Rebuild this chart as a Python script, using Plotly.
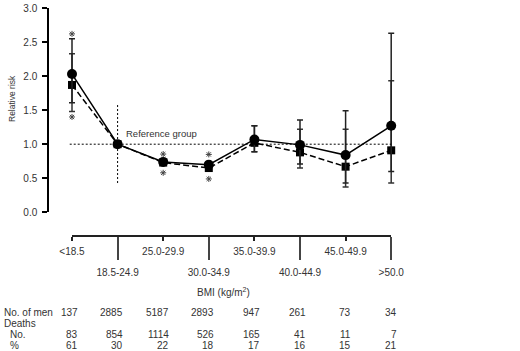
import plotly.graph_objects as go

# ---- data ----
categories = ["<18.5", "18.5-24.9", "25.0-29.9", "30.0-34.9",
              "35.0-39.9", "40.0-44.9", "45.0-49.9", ">50.0"]
rr_model1 = [2.03, 1.00, 0.74, 0.70, 1.07, 0.99, 0.84, 1.27]   # circles, solid
ci1_low   = [1.61, 1.00, 0.74, 0.70, 0.89, 0.71, 0.43, 0.60]
ci1_high  = [2.55, 1.00, 0.74, 0.70, 1.27, 1.355, 1.49, 2.63]
rr_model2 = [1.87, 1.00, 0.73, 0.65, 1.02, 0.88, 0.67, 0.91]   # squares, dashed
ci2_low   = [1.48, 1.00, 0.73, 0.65, 0.89, 0.65, 0.37, 0.43]
ci2_high  = [2.33, 1.00, 0.73, 0.65, 1.27, 1.22, 1.22, 1.93]
sig_cat   = [0, 0, 2, 2, 3, 3]
sig_y     = [2.62, 1.40, 0.855, 0.58, 0.85, 0.49]
n_men     = [137, 2885, 5187, 2893, 947, 261, 73, 34]
n_deaths  = [83, 854, 1114, 526, 165, 41, 11, 7]
pct_death = [61, 30, 22, 18, 17, 16, 15, 21]
y_ticks   = [0.0, 0.5, 1.0, 1.5, 2.0, 2.5, 3.0]

W, H = 520, 351
ML, MT = 49, 8
PW, PH = W - ML, H - MT
X0PX, DX = 72.0, 45.6

def fx(px):
    return (px - ML) / PW

def fy(py):
    return (H - py) / PH

def ix(px):
    return (px - X0PX) / DX

idx = list(range(len(categories)))
txt = "#333333"
FONT = "Liberation Sans, Arial, sans-serif"

def minus(v, lo):
    return [a - b for a, b in zip(v, lo)]

fig = go.Figure()
# invisible traces that register the bracket axes (x2, x3)
fig.add_trace(go.Scatter(x=[0], y=[None], xaxis="x2", yaxis="y", mode="markers",
                         showlegend=False, hoverinfo="skip"))
fig.add_trace(go.Scatter(x=[1], y=[None], xaxis="x3", yaxis="y", mode="markers",
                         showlegend=False, hoverinfo="skip"))

fig.add_trace(go.Scatter(
    x=idx, y=rr_model2, mode="lines+markers", cliponaxis=False,
    line=dict(color="black", width=1.5, dash="6px,3px"),
    marker=dict(symbol="square", size=8, color="black"),
    error_y=dict(type="data", symmetric=False,
                 array=minus(ci2_high, rr_model2), arrayminus=minus(rr_model2, ci2_low),
                 color="#333333", thickness=1.5, width=3),
    showlegend=False))
fig.add_trace(go.Scatter(
    x=idx, y=rr_model1, mode="lines+markers", cliponaxis=False,
    line=dict(color="black", width=1.5),
    marker=dict(symbol="circle", size=10, color="black"),
    error_y=dict(type="data", symmetric=False,
                 array=minus(ci1_high, rr_model1), arrayminus=minus(rr_model1, ci1_low),
                 color="#222222", thickness=1.5, width=3),
    showlegend=False))
fig.add_trace(go.Scatter(
    x=sig_cat, y=sig_y, mode="markers", cliponaxis=False,
    marker=dict(symbol="asterisk-open", size=5, color="#444",
                line=dict(color="#444", width=1)),
    showlegend=False))

shapes = [
    dict(type="line", xref="x", yref="y", x0=-0.05, x1=7, y0=1, y1=1,
         line=dict(color="black", width=1, dash="2px,2px")),
    dict(type="line", xref="x", yref="y", x0=1, x1=1, y0=0.43, y1=1.6,
         line=dict(color="black", width=1, dash="2px,2px")),
]

SH = 0  # vertical text correction
ann = []
ann.append(dict(text="Reference group", xref="x", yref="y", x=ix(124), y=1.15,
                xanchor="left", yanchor="middle", showarrow=False,
                font=dict(size=9.5, color=txt, family=FONT)))
ann.append(dict(text="Relative risk", xref="paper", yref="paper", x=fx(12), y=fy(99),
                textangle=-90, xanchor="center", yanchor="middle", showarrow=False,
                font=dict(size=8.5, color=txt, family=FONT)))
ann.append(dict(text="BMI (kg/m<sup>2</sup>)", xref="paper", yref="paper", x=fx(223), y=fy(292 + SH),
                xanchor="center", yanchor="middle", showarrow=False,
                font=dict(size=10, color=txt, family=FONT)))

rows = [("No. of men", 2, 312, n_men), ("Deaths", 2, 323, None),
        ("No.", 8, 334, n_deaths), ("%", 8, 345.5, pct_death)]
for label, lx, ly, vals in rows:
    ann.append(dict(text=label, xref="paper", yref="paper", x=fx(lx), y=fy(ly + SH),
                    xanchor="left", yanchor="middle", showarrow=False,
                    font=dict(size=10, color=txt, family=FONT)))
    if vals is not None:
        for i, v in enumerate(vals):
            ann.append(dict(text=str(v), xref="x", yref="paper", x=i + 0.165, y=fy(ly + SH),
                            xanchor="right", yanchor="middle", showarrow=False,
                            font=dict(size=10, color=txt, family=FONT)))

xa_range = [ix(ML), ix(W)]
d2 = [fx(X0PX), fx(X0PX + 7 * DX)]
pos_axis = fy(235.5)

fig.update_layout(
    template="none",
    width=W, height=H, margin=dict(l=ML, r=0, t=MT, b=0, autoexpand=False),
    paper_bgcolor="white", plot_bgcolor="rgba(0,0,0,0)",
    font=dict(family=FONT, size=10, color=txt),
    showlegend=False,
    xaxis=dict(visible=False, range=xa_range, domain=[0, 1], automargin=False),
    yaxis=dict(range=[0, 3], domain=[fy(212.3), 1], anchor="x", automargin=False,
               showline=True, linecolor="black", linewidth=1.5,
               ticks="outside", ticklen=5, tickwidth=1.5, tickcolor="black",
               tickvals=y_ticks, tickformat=".1f", showgrid=False, zeroline=False,
               ticklabelstandoff=3,
               tickfont=dict(size=10, color=txt)),
    xaxis2=dict(range=[0, 7], domain=d2, anchor="free", position=pos_axis, automargin=False,
                showline=True, linecolor="#222", linewidth=2,
                ticks="outside", ticklen=4, tickwidth=1.5, tickcolor="#222",
                tickvals=[0, 2, 4, 6], ticktext=[categories[i] for i in [0, 2, 4, 6]],
                ticklabelstandoff=2,
                showgrid=False, zeroline=False, tickfont=dict(size=10, color=txt)),
    xaxis3=dict(range=[0, 7], domain=d2, anchor="free", position=pos_axis, automargin=False,
                overlaying="x2", showline=False,
                ticks="outside", ticklen=23, tickwidth=2, tickcolor="#444",
                tickvals=[1, 3, 5, 7], ticktext=[categories[i] for i in [1, 3, 5, 7]],
                ticklabelstandoff=4,
                showgrid=False, zeroline=False, tickfont=dict(size=10, color=txt)),
    shapes=shapes, annotations=ann,
)

fig.write_html("out.html")
